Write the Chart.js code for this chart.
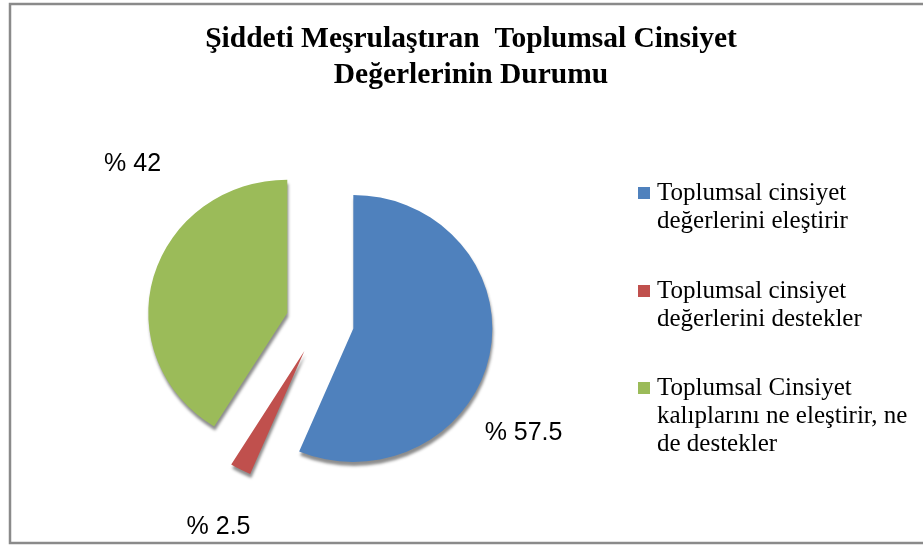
<!DOCTYPE html>
<html>
<head>
<meta charset="utf-8">
<script src="https://cdn.jsdelivr.net/npm/chart.js@4/dist/chart.umd.min.js"></script>
<style>
  html, body { margin: 0; padding: 0; background: #fff; }
  #chart { display: block; }
</style>
</head>
<body>
<canvas id="chart" width="923" height="545"></canvas>
<script>
// Chart data
const titleLines = ['Şiddeti Meşrulaştıran  Toplumsal Cinsiyet', 'Değerlerinin Durumu'];
const categories = [
    ['Toplumsal cinsiyet', 'değerlerini eleştirir'],
    ['Toplumsal cinsiyet', 'değerlerini destekler'],
    ['Toplumsal Cinsiyet', 'kalıplarını ne eleştirir, ne', 'de destekler']
];
const values = [57.5, 2.5, 42];
const valueLabels = ['% 57.5', '% 2.5', '% 42'];

// Styles
const colors = ['#4F81BD', '#C0504D', '#9BBB59'];
const explode = 34;      // px each slice is pulled out
const tilt = 0.96;       // slight vertical squash, like the 3D pie
const labelShift = [[34, 78], [-22, 58], [-21, -112]];

// Pull every slice out along its middle angle
const explodeSlices = {
    id: 'explodeSlices',
    afterDatasetUpdate(chart, args) {
        args.meta.data.forEach(arc => {
            const mid = (arc.startAngle + arc.endAngle) / 2;
            arc.x += Math.cos(mid) * explode;
            arc.y += Math.sin(mid) * explode;
        });
    },
    beforeDatasetsDraw(chart) {
        const ctx = chart.ctx;
        const cy = (chart.chartArea.top + chart.chartArea.bottom) / 2;
        ctx.save();
        ctx.translate(0, cy);
        ctx.scale(1, tilt);
        ctx.translate(0, -cy);
        ctx.shadowColor = 'rgba(0, 0, 0, 0.45)';
        ctx.shadowOffsetX = 1;
        ctx.shadowOffsetY = 4;
        ctx.shadowBlur = 3;
    },
    afterDatasetsDraw(chart) {
        const ctx = chart.ctx;
        ctx.restore();
        const cy = (chart.chartArea.top + chart.chartArea.bottom) / 2;
        const arcs = chart.getDatasetMeta(0).data;
        ctx.save();
        ctx.fillStyle = '#000';
        ctx.font = '25px "Liberation Sans", sans-serif';
        ctx.textAlign = 'center';
        ctx.textBaseline = 'middle';
        arcs.forEach((arc, i) => {
            const mid = (arc.startAngle + arc.endAngle) / 2;
            const x = arc.x + Math.cos(mid) * arc.outerRadius + labelShift[i][0];
            const y = cy + (arc.y + Math.sin(mid) * arc.outerRadius - cy) * tilt + labelShift[i][1];
            ctx.fillText(valueLabels[i], x, y);
        });
        ctx.restore();
    }
};

// Frame, title and legend
const decorations = {
    id: 'decorations',
    beforeDraw(chart) {
        const ctx = chart.ctx;
        ctx.save();
        ctx.strokeStyle = '#8a8a8a';
        ctx.lineWidth = 2.5;
        ctx.strokeRect(10, 4, 930, 539);
        ctx.restore();
    },
    afterDraw(chart) {
        const ctx = chart.ctx;
        ctx.save();
        ctx.fillStyle = '#000';
        ctx.textAlign = 'center';
        ctx.textBaseline = 'alphabetic';
        ctx.font = 'bold 29.5px "Liberation Serif", serif';
        titleLines.forEach((line, i) => ctx.fillText(line, 471, 47 + i * 36));

        ctx.textAlign = 'left';
        ctx.font = '25px "Liberation Serif", serif';
        const itemTops = [200, 298, 395];
        categories.forEach((lines, i) => {
            ctx.fillStyle = colors[i];
            ctx.fillRect(638, itemTops[i] - 13, 12, 12);
            ctx.fillStyle = '#000';
            lines.forEach((line, j) => ctx.fillText(line, 657, itemTops[i] + j * 28));
        });
        ctx.restore();
    }
};

new Chart(document.getElementById('chart'), {
    type: 'pie',
    data: {
        labels: categories,
        datasets: [{
            data: values,
            backgroundColor: colors,
            borderWidth: 0
        }]
    },
    options: {
        responsive: false,
        animation: false,
        devicePixelRatio: 1,
        layout: {
            padding: { left: 181, right: 464, top: 183, bottom: 84 }
        },
        plugins: {
            legend: { display: false },
            title: { display: false },
            tooltip: { enabled: false }
        }
    },
    plugins: [explodeSlices, decorations]
});
</script>
</body>
</html>
